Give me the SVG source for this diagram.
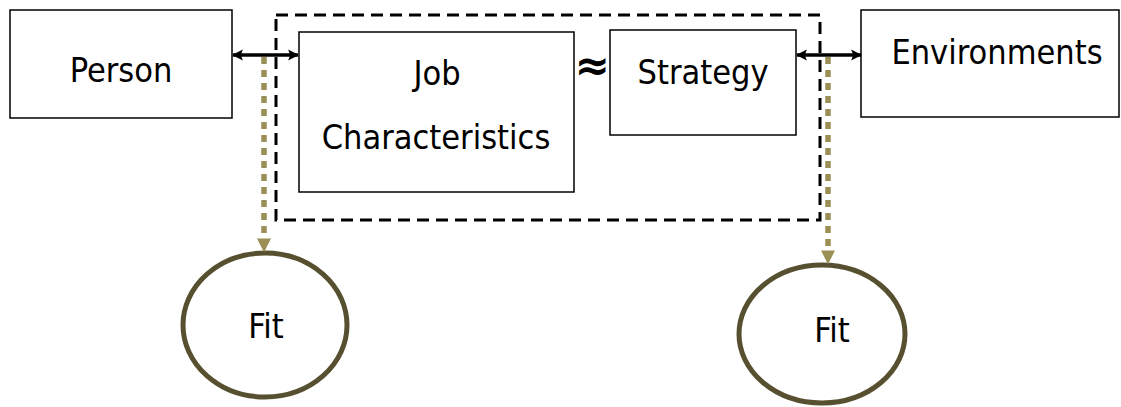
<svg xmlns="http://www.w3.org/2000/svg" width="1121" height="407" viewBox="0 0 1121 407">
<style>
.box{fill:#fff;stroke:#000;stroke-width:1.5}
.t{font-family:"DejaVu Sans Condensed","DejaVu Sans",sans-serif;font-size:34px;fill:#000;text-anchor:middle}
.fit{fill:#fff;stroke:#575030;stroke-width:5}
.dot{stroke:#9a8f55;stroke-width:5.5;stroke-dasharray:7 6;fill:none}
.arr{stroke:#000;stroke-width:3.5;fill:none}
</style>
<defs>
<marker id="ah" viewBox="0 0 10 10" refX="9" refY="5" markerWidth="11" markerHeight="15" markerUnits="userSpaceOnUse" orient="auto-start-reverse"><path d="M0,0 L10,5 L0,10 L2,5 z" fill="#000"/></marker>
<marker id="oh" viewBox="0 0 10 10" refX="9" refY="5" markerWidth="14" markerHeight="16" markerUnits="userSpaceOnUse" orient="auto"><path d="M0,0 L10,5 L0,10 z" fill="#9a8f55"/></marker>
</defs>
<rect x="276" y="15" width="544" height="205" fill="none" stroke="#000" stroke-width="3" stroke-dasharray="12 7"/>
<g id="person"><rect class="box" x="10" y="10" width="222" height="108"/><text class="t" x="121" y="82">Person</text></g>
<g id="job"><rect class="box" x="299" y="32" width="275" height="160"/><text class="t" x="437" y="85">Job</text><text class="t" x="436" y="149">Characteristics</text></g>
<g id="approx"><text x="592" y="80" style="font-family:'DejaVu Sans',sans-serif;font-size:42px;font-weight:bold;text-anchor:middle">≈</text></g>
<g id="strategy"><rect class="box" x="610" y="30" width="186" height="105"/><text class="t" x="703" y="84">Strategy</text></g>
<g id="env"><rect class="box" x="861" y="10" width="258" height="107"/><text class="t" x="997" y="64">Environments</text></g>
<g id="fit1"><ellipse class="fit" cx="265" cy="325" rx="82" ry="72"/><text class="t" x="266" y="338">Fit</text></g>
<g id="fit2"><ellipse class="fit" cx="822" cy="334" rx="83" ry="69"/><text class="t" x="832" y="342">Fit</text></g>
<g id="connectors">
<line class="arr" x1="233" y1="55" x2="298" y2="55" marker-start="url(#ah)" marker-end="url(#ah)"/>
<line class="arr" x1="797" y1="55" x2="861" y2="55" marker-start="url(#ah)" marker-end="url(#ah)"/>
<line class="dot" x1="264" y1="57" x2="264" y2="251" marker-end="url(#oh)"/>
<line class="dot" x1="828" y1="57" x2="828" y2="263" marker-end="url(#oh)"/>
</g>
</svg>
